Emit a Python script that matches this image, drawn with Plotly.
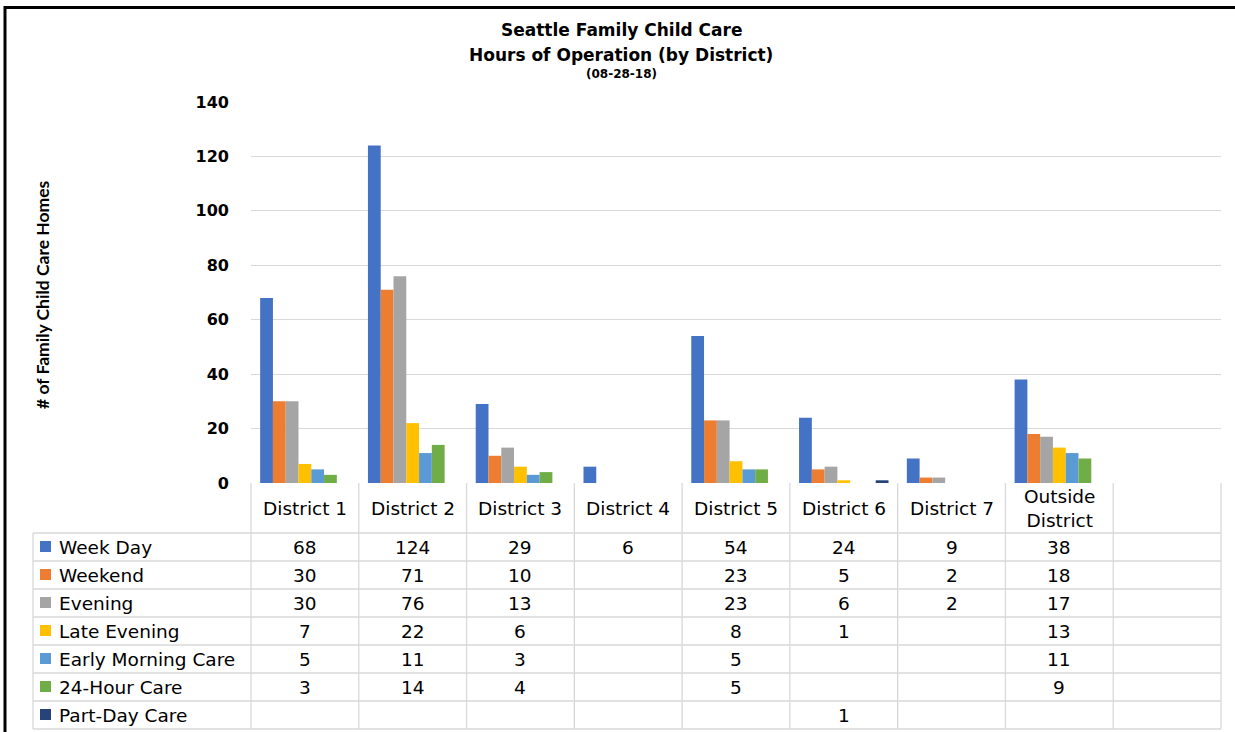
import plotly.graph_objects as go

# Districts (the last slot is an empty column of the data table)
districts = ["District 1", "District 2", "District 3", "District 4", "District 5",
             "District 6", "District 7", "Outside<br>District", ""]

series_names = ["Week Day", "Weekend", "Evening", "Late Evening",
                "Early Morning Care", "24-Hour Care", "Part-Day Care"]

week_day      = [68, 124, 29, 6, 54, 24, 9, 38, None]
weekend       = [30, 71, 10, None, 23, 5, 2, 18, None]
evening       = [30, 76, 13, None, 23, 6, 2, 17, None]
late_evening  = [7, 22, 6, None, 8, 1, None, 13, None]
early_morning = [5, 11, 3, None, 5, None, None, 11, None]
hour24_care   = [3, 14, 4, None, 5, None, None, 9, None]
part_day      = [None, None, None, None, None, 1, None, None, None]

series_values = [week_day, weekend, evening, late_evening,
                 early_morning, hour24_care, part_day]
series_colors = ["#4472C4", "#ED7D31", "#A5A5A5", "#FFC000",
                 "#5B9BD5", "#70AD47", "#264478"]

y_ticks = [0, 20, 40, 60, 80, 100, 120, 140]

FIG_W, FIG_H = 1235, 732
L, R, T, B = 251, 1221, 102, 483          # plot area in pixels
PW, PH = R - L, B - T
WIDE = "DejaVu Sans"
NARROW = "Lato"
GRID = "#D9D9D9"


def px(x):
    return (x - L) / PW


def py(y):
    return (B - y) / PH


slots = list(range(len(districts)))
fig = go.Figure()
for name, vals, color in zip(series_names, series_values, series_colors):
    fig.add_trace(go.Bar(x=slots, y=vals, name=name, marker_color=color,
                         marker_line_width=0, showlegend=False))

shapes = []
annotations = []

# Data table below the plot area
col_w = PW / len(districts)
header_top, header_bot = B, 533
row_h = 28
n_rows = len(series_names)
table_bot = header_bot + n_rows * row_h
legend_left = 33

col_edges = [L + i * col_w for i in range(len(districts) + 1)]
for xe in col_edges:
    shapes.append(dict(type="line", xref="paper", yref="paper",
                       x0=px(xe), x1=px(xe), y0=py(header_top), y1=py(table_bot),
                       line=dict(color=GRID, width=1.3)))
shapes.append(dict(type="line", xref="paper", yref="paper",
                   x0=px(legend_left), x1=px(legend_left),
                   y0=py(header_bot), y1=py(table_bot),
                   line=dict(color=GRID, width=1.3)))
for r in range(n_rows + 1):
    yr = header_bot + r * row_h
    shapes.append(dict(type="line", xref="paper", yref="paper",
                       x0=px(legend_left), x1=px(R), y0=py(yr), y1=py(yr),
                       line=dict(color=GRID, width=1.3)))

TABLE_FONT = dict(family=WIDE, size=18.5, color="#000")

# Header labels
for i, d in enumerate(districts):
    if d:
        annotations.append(dict(xref="paper", yref="paper",
                                x=px(L + (i + 0.5) * col_w), y=py((header_top + header_bot) / 2),
                                text=d, showarrow=False, xanchor="center", yanchor="middle",
                                font=TABLE_FONT))

# Legend keys and values
for r, (name, vals, color) in enumerate(zip(series_names, series_values, series_colors)):
    yc = header_bot + (r + 0.5) * row_h
    shapes.append(dict(type="rect", xref="paper", yref="paper",
                       x0=px(40), x1=px(51), y0=py(yc - 6), y1=py(yc + 5),
                       fillcolor=color, line=dict(width=0)))
    annotations.append(dict(xref="paper", yref="paper", x=px(57), y=py(yc),
                            text=name, showarrow=False, xanchor="left", yanchor="middle",
                            font=TABLE_FONT))
    for i, v in enumerate(vals):
        if v is not None:
            annotations.append(dict(xref="paper", yref="paper",
                                    x=px(L + (i + 0.5) * col_w), y=py(yc),
                                    text=str(v), showarrow=False, xanchor="center",
                                    yanchor="middle", font=TABLE_FONT))

# Titles
annotations.append(dict(xref="paper", yref="paper", x=px(621), y=py(30),
                        text="<b>Seattle Family Child Care</b>", showarrow=False,
                        xanchor="center", yanchor="middle",
                        font=dict(family=WIDE, size=17, color="#000")))
annotations.append(dict(xref="paper", yref="paper", x=px(621), y=py(55),
                        text="<b>Hours of Operation (by District)</b>", showarrow=False,
                        xanchor="center", yanchor="middle",
                        font=dict(family=WIDE, size=17, color="#000")))
annotations.append(dict(xref="paper", yref="paper", x=px(621), y=py(74),
                        text="<b>(08-28-18)</b>", showarrow=False,
                        xanchor="center", yanchor="middle",
                        font=dict(family=WIDE, size=12, color="#000")))
annotations.append(dict(xref="paper", yref="paper", x=px(42), y=py(295),
                        text="<b># of Family Child Care Homes</b>", showarrow=False,
                        textangle=-90, xanchor="center", yanchor="middle",
                        font=dict(family=NARROW, size=17.5, color="#000")))

# Outer frame (top and left edges)
shapes.append(dict(type="line", xref="paper", yref="paper",
                   x0=px(4), x1=px(FIG_W), y0=py(7.5), y1=py(7.5),
                   line=dict(color="#000", width=3)))
shapes.append(dict(type="line", xref="paper", yref="paper",
                   x0=px(5), x1=px(5), y0=py(6), y1=py(FIG_H),
                   line=dict(color="#000", width=3)))

fig.update_layout(
    width=FIG_W, height=FIG_H,
    margin=dict(l=L, r=FIG_W - R, t=T, b=FIG_H - B, autoexpand=False),
    paper_bgcolor="white", plot_bgcolor="white",
    barmode="group", bargap=0.17, bargroupgap=0,
    shapes=shapes, annotations=annotations,
    xaxis=dict(range=[-0.5, len(districts) - 0.5], showticklabels=False,
               showgrid=False, zeroline=False, showline=False, ticks=""),
    yaxis=dict(range=[0, 140], tickvals=y_ticks, showgrid=True, gridcolor=GRID,
               gridwidth=1.3, zeroline=False, showline=False, ticks="",
               ticklabelstandoff=21,
               tickfont=dict(family=WIDE, size=16, color="#000", weight="bold")),
)

fig.write_html("out.html")
